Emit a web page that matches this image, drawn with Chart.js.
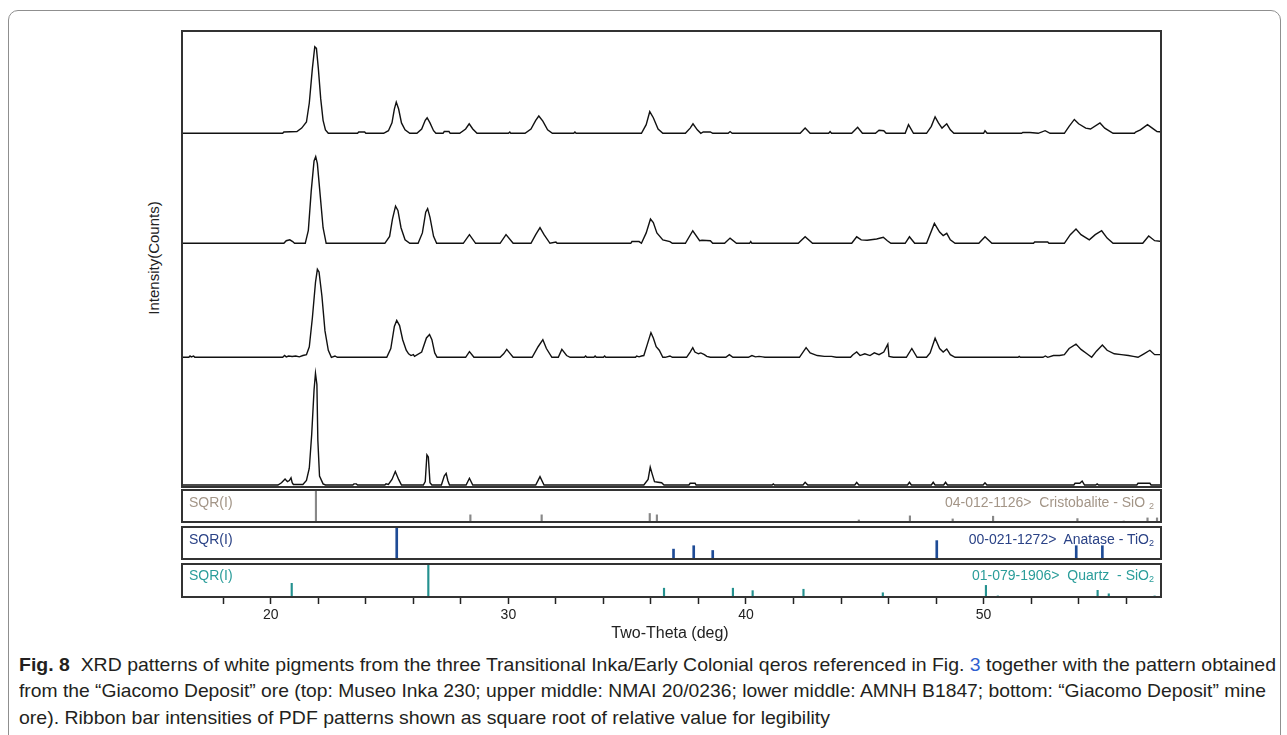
<!DOCTYPE html>
<html>
<head>
<meta charset="utf-8">
<script src="https://cdn.jsdelivr.net/npm/chart.js@4.4.1/dist/chart.umd.min.js"></script>
<style>
  body { margin: 0; width: 1287px; height: 735px; overflow: hidden; position: relative; background: #fff;
         font-family: "Liberation Sans", Arial, sans-serif; }
  .abs { position: absolute; }
  #outer { left: 8px; top: 10px; width: 1271px; height: 760px; border: 1.5px solid #8f8f8f; border-radius: 10px; }
  .sqr { font-size: 14px; line-height: 16px; }
  .ref { font-size: 14px; line-height: 16px; text-align: right; white-space: nowrap; }
  .ref sub { font-size: 9px; vertical-align: -2px; }
  #ytitle { left: 153px; top: 258px; font-size: 15px; color: #222; white-space: nowrap;
            transform: translate(-50%, -50%) rotate(-90deg); }
  #xtitle { left: 670px; top: 633px; font-size: 16px; color: #222; white-space: nowrap; transform: translate(-50%, -50%); }
  .cap { left: 19px; font-size: 18.5px; line-height: 26px; color: #231f20; white-space: nowrap; transform-origin: left center; }
  .cap a { color: #2f5fd0; text-decoration: none; }
</style>
</head>
<body>
<div id="outer" class="abs"></div>

<div class="abs" style="left:181px;top:30px;width:981px;height:458px"><canvas id="mainChart"></canvas></div>
<div class="abs" style="left:181px;top:489px;width:981px;height:34px"><canvas id="crisChart"></canvas></div>
<div class="abs" style="left:181px;top:526px;width:981px;height:34px"><canvas id="anaChart"></canvas></div>
<div class="abs" style="left:181px;top:563px;width:981px;height:63px"><canvas id="qtzChart"></canvas></div>

<div class="abs sqr" style="left:189px;top:494px;color:#a39587">SQR(I)</div>
<div class="abs sqr" style="left:189px;top:531px;color:#2a4286">SQR(I)</div>
<div class="abs sqr" style="left:189px;top:567px;color:#2a9d9a">SQR(I)</div>
<div class="abs ref" style="right:133px;top:494px;color:#a39587">04-012-1126&gt;&nbsp; Cristobalite - SiO <sub>2</sub></div>
<div class="abs ref" style="right:133px;top:531px;color:#2a4286">00-021-1272&gt;&nbsp; Anatase - TiO<sub>2</sub></div>
<div class="abs ref" style="right:133px;top:567px;color:#2a9d9a">01-079-1906&gt;&nbsp; Quartz &nbsp;- SiO<sub>2</sub></div>

<div id="ytitle" class="abs">Intensity(Counts)</div>
<div id="xtitle" class="abs">Two-Theta (deg)</div>

<div class="abs cap" style="top:652px" data-w="1257"><b>Fig. 8</b>&nbsp; XRD patterns of white pigments from the three Transitional Inka/Early Colonial qeros referenced in Fig. <a>3</a> together with the pattern obtained</div>
<div class="abs cap" style="top:678px" data-w="1247">from the “Giacomo Deposit” ore (top: Museo Inka 230; upper middle: NMAI 20/0236; lower middle: AMNH B1847; bottom: “Giacomo Deposit” mine</div>
<div class="abs cap" style="top:705px" data-w="811">ore). Ribbon bar intensities of PDF patterns shown as square root of relative value for legibility</div>

<script>
// XRD traces: [two-theta, relative intensity]
const museoInka230 = [
  [16.22,0],[20.5,0],[20.55,1.5],[21.1,2],[21.3,6],[21.5,13],[21.62,35],[21.75,75],[21.85,100],[21.92,98],[22.0,75],[22.1,40],[22.2,15],[22.3,4],[22.42,0],
  [23.65,0],[23.7,1.5],[23.95,1.5],[24.0,0],
  [24.75,0],[24.95,3],[25.1,12],[25.2,28],[25.28,36],[25.38,28],[25.5,12],[25.65,4],[25.85,0],
  [26.15,0],[26.35,5],[26.5,15],[26.58,18],[26.7,12],[26.85,3],[26.95,0],
  [27.25,0],[27.3,2],[27.5,2],[27.55,0],
  [27.95,0],[28.2,5],[28.35,11],[28.5,5],[28.68,0],
  [30.0,0],[30.06,1.5],[30.1,0],
  [30.7,0],[30.95,5],[31.15,15],[31.28,20],[31.45,14],[31.65,4],[31.85,0],
  [32.75,0],[32.8,1.5],[32.85,0],
  [35.6,0],[35.8,10],[35.95,25],[36.1,18],[36.3,5],[36.5,0],
  [37.45,0],[37.65,6],[37.77,11],[37.95,4],[38.1,0],[38.2,1.5],[38.5,1.5],[38.6,0],
  [39.25,0],[39.33,2],[39.42,0],
  [42.28,0],[42.49,6],[42.7,0],
  [43.48,0],[43.54,2],[43.6,0],
  [44.45,0],[44.7,7],[44.9,0],
  [45.45,0],[45.6,3.5],[45.8,3],[45.9,0],
  [46.7,0],[46.84,10],[47.05,0],
  [47.6,0],[47.8,8],[47.96,19],[48.1,12],[48.25,6],[48.45,11],[48.6,4],[48.75,0],
  [50.0,0],[50.06,3],[50.15,0],
  [51.6,0],[51.65,1],[51.95,1],[52.3,0],[52.59,3],[52.8,0],
  [53.4,0],[53.6,8],[53.82,16],[54.0,11],[54.3,6],[54.5,5],[54.9,12],[55.1,6],[55.45,0],
  [56.35,0],[56.4,1.5],[56.6,4],[56.9,10],[57.1,6],[57.3,2],[57.51,1.5]
];
const nmai20_0236 = [
  [16.22,0],[20.55,0],[20.65,3],[20.8,4],[20.92,2],[21.0,0],
  [21.45,0],[21.58,15],[21.7,60],[21.82,95],[21.89,100],[21.96,92],[22.08,55],[22.2,18],[22.33,0],
  [24.8,0],[25.0,8],[25.12,28],[25.25,43],[25.35,38],[25.48,18],[25.65,4],[25.85,0],
  [26.2,0],[26.38,12],[26.52,36],[26.6,40],[26.7,30],[26.85,8],[26.98,0],
  [28.1,0],[28.36,10],[28.62,0],
  [29.65,0],[29.9,10],[30.2,0],
  [30.95,0],[31.15,10],[31.33,18],[31.5,10],[31.75,0],[32.0,1.5],[32.05,0],
  [35.15,0],[35.2,2],[35.5,2],[35.6,0],
  [35.8,12],[35.98,28],[36.1,24],[36.25,12],[36.5,4],[36.8,2],[36.9,0],
  [37.45,0],[37.76,14.5],[38.05,3],[38.15,3.5],[38.5,3],[38.6,0],
  [39.1,0],[39.33,6],[39.6,0],
  [40.15,0],[40.2,2],[40.25,0],
  [42.2,0],[42.49,7.5],[42.8,0],
  [44.45,0],[44.66,7.5],[44.85,4],[45.1,3.5],[45.5,5],[45.78,7],[45.95,3],[46.1,0],
  [46.7,0],[46.88,7.5],[47.1,0],
  [47.6,0],[47.93,23],[48.15,13],[48.3,9],[48.45,11.5],[48.6,4],[48.8,0],
  [49.8,0],[50.06,7.5],[50.35,0],
  [52.1,0],[52.15,1.5],[52.7,1.5],[52.75,0],
  [53.4,0],[53.65,10],[53.89,16.5],[54.1,10],[54.45,4],[54.7,10],[54.97,14.5],[55.2,6],[55.45,0],
  [56.7,0],[56.95,8.5],[57.2,3],[57.51,2]
];
const amnhB1847 = [
  [16.22,0],[16.55,0],[16.6,1.5],[16.65,0.5],[16.75,1.5],[16.8,0],
  [20.5,0],[20.58,2],[20.65,0.5],[20.75,1.5],[20.9,1],[21.05,1.5],[21.2,0.5],[21.35,2],[21.5,3],
  [21.62,12],[21.75,45],[21.88,85],[21.96,100],[22.03,97],[22.15,70],[22.28,30],[22.42,8],[22.55,0],[22.7,1.5],[22.8,0],
  [24.88,0],[25.05,10],[25.2,35],[25.3,42],[25.42,36],[25.55,20],[25.7,8],[25.8,4],[25.9,2],[26.0,3],[26.05,1],
  [26.35,6],[26.55,22],[26.68,26],[26.78,20],[26.9,5],[27.0,0],
  [28.2,0],[28.36,6.5],[28.55,0],
  [29.65,0],[29.8,4],[29.93,9],[30.05,5],[30.2,0],
  [31.0,0],[31.25,12],[31.45,20],[31.6,10],[31.83,0],
  [32.1,0],[32.25,9],[32.45,2],[32.6,0],
  [33.2,0],[33.25,1.5],[33.3,0],[33.6,0],[33.65,1.5],[33.7,0],[34.0,0],[34.05,1.5],[34.1,0],
  [35.35,0],[35.4,1.5],[35.5,0.5],[35.6,1.5],
  [35.7,2],[35.85,15],[36.0,28],[36.1,22],[36.22,12],[36.35,8],[36.5,0],
  [36.6,0],[36.8,1.5],[36.9,0],
  [37.5,0],[37.65,6],[37.76,11],[37.85,6],[38.0,4],[38.1,5],[38.25,3],[38.35,1],[38.5,0],
  [39.15,0],[39.3,3],[39.45,0],
  [40.1,0],[40.25,2],[40.4,0.5],[40.55,1],[40.7,0.5],[40.8,0],
  [42.25,0],[42.53,11],[42.7,5],[43.0,2],[43.3,1],[43.6,1],[43.8,0],
  [44.4,0],[44.5,3],[44.66,6],[44.8,2],[45.0,4],[45.22,2],[45.4,5],[45.6,3],[45.8,6],[45.97,14.8],[46.02,1],[46.2,0],
  [46.75,0],[46.98,10],[47.2,0],
  [47.6,0],[47.75,5],[47.96,21.6],[48.15,10],[48.3,6],[48.45,9.5],[48.6,3],[48.8,0],
  [51.45,0],[51.5,1],[51.55,0],[52.5,0],[52.6,1.5],[52.7,0],[52.94,2],[53.2,2],[53.4,3],
  [53.6,10],[53.89,15],[54.1,9],[54.35,4],[54.55,0],[54.75,7],[55.0,14],[55.2,8],[55.5,4],[55.8,3],[56.1,2],[56.3,1],
  [56.5,0],[56.75,4],[57.0,8],[57.2,3],[57.51,3]
];
const giacomoOre = [
  [16.22,0],[20.3,0],[20.45,2],[20.6,5.4],[20.7,3],[20.78,4],[20.85,6.5],[20.9,2],[20.95,0.5],[21.25,0.5],[21.35,0.5],
  [21.5,4],[21.62,15],[21.72,45],[21.82,85],[21.88,100],[21.94,90],[21.98,40],[22.05,8],[22.2,1],[22.3,0],
  [23.45,0],[23.5,1],[23.6,1],[23.65,0],
  [24.8,0],[24.85,1],[24.95,0.5],[25.1,5],[25.24,12],[25.38,5],[25.5,0],
  [26.42,0],[26.5,3],[26.57,27],[26.63,25],[26.7,2],[26.78,0],
  [27.18,0],[27.3,8],[27.38,10.4],[27.45,4],[27.52,0],
  [28.22,0],[28.36,6],[28.5,0],
  [31.15,0],[31.33,7.5],[31.5,0],
  [35.7,0],[35.88,5],[35.97,16],[36.05,10],[36.15,3],[36.3,2.5],[36.45,2],[36.55,0],
  [37.6,0],[37.65,1.5],[37.86,1.5],[37.9,0],
  [41.1,0],[41.15,1],[41.2,0],
  [42.4,0],[42.49,2.4],[42.6,0],
  [44.58,0],[44.66,2.4],[44.75,0],
  [46.8,0],[46.88,2.4],[46.96,0],
  [47.8,0],[47.88,2.4],[47.96,0],[48.32,0],[48.4,2.4],[48.48,0],
  [49.98,0],[50.06,2],[50.14,0],
  [53.8,0],[53.85,1.5],[54.05,1.5],[54.15,3.5],[54.25,0],
  [54.72,0],[54.78,1],[54.84,0],
  [56.45,0],[56.5,1.5],[57.0,1.5],[57.05,0],[57.51,0]
];

// PDF reference sticks: [two-theta, SQR(I) relative]
const cristobaliteSticks = [
  [21.9,100],[25.3,5],[28.4,24],[31.4,24],[35.95,28],[36.25,24],[42.6,5],[44.75,9],[45.15,4],
  [46.9,21],[48.7,12],[50.4,20],[52.5,3],[53.95,13],[55.9,6],[56.9,15],[57.3,15]
];
const anataseSticks = [
  [25.3,100],[36.95,32],[37.8,42],[38.6,28],[48.03,57],[53.9,42],[55.0,42]
];
const quartzSticks = [
  [20.88,42],[26.63,100],[36.55,28],[39.45,28],[40.28,21],[42.42,25],[45.76,15],
  [50.1,36],[50.6,6],[54.8,22],[55.27,12],[57.2,6]
];

const tickValues = [18, 20, 22, 24, 26, 28, 30, 32, 34, 36, 38, 40, 42, 44, 46, 48, 50, 52, 54, 56];
const tickLabels = [20, 30, 40, 50];

// where each trace sits inside the main frame (px from its top)
const bandBase = [103.3, 213.3, 327.3, 455];
const bandPeak = [16.7, 126.7, 239.3, 343.3];
const plotH = 458;
const xMin = 16.22, xMax = 57.51;

const framePlugin = {
  id: 'frame',
  afterDraw(chart) {
    const a = chart.chartArea, ctx = chart.ctx;
    ctx.save();
    ctx.strokeStyle = '#333';
    ctx.lineWidth = 2;
    ctx.strokeRect(a.left + 1, a.top + 1, a.right - a.left - 2, a.bottom - a.top - 2);
    ctx.restore();
  }
};

function bandAxis(i) {
  const span = bandBase[i] - bandPeak[i];
  const max = 100 * bandBase[i] / span;
  return { type: 'linear', display: false, min: max - 100 * plotH / span, max: max };
}

const common = {
  responsive: true,
  maintainAspectRatio: false,
  animation: false,
  layout: { padding: 0 },
  plugins: { legend: { display: false }, tooltip: { enabled: false } }
};

const traces = [museoInka230, nmai20_0236, amnhB1847, giacomoOre];
const scales = { x: { type: 'linear', display: false, min: xMin, max: xMax } };
traces.forEach((t, i) => { scales['y' + i] = bandAxis(i); });

new Chart(document.getElementById('mainChart'), {
  type: 'line',
  data: {
    datasets: traces.map((t, i) => ({
      data: t,
      yAxisID: 'y' + i,
      borderColor: '#111',
      borderWidth: 1.4,
      pointRadius: 0,
      tension: 0,
      fill: false
    }))
  },
  options: Object.assign({}, common, { scales: scales }),
  plugins: [framePlugin]
});

function stickChart(id, sticks, color, width, showAxis) {
  const x = { type: 'linear', display: false, min: xMin, max: xMax, offset: false, grid: { offset: false } };
  if (showAxis) {
    Object.assign(x, {
      display: true,
      afterBuildTicks: s => { s.ticks = tickValues.map(v => ({ value: v })); },
      afterFit: s => { s.height = 28; },
      border: { display: false },
      grid: { offset: false, drawOnChartArea: false, drawTicks: true, tickLength: 6, tickColor: '#222', tickWidth: 1.5 },
      ticks: {
        autoSkip: false, maxRotation: 0, padding: 3, color: '#222',
        font: { size: 14, family: 'Liberation Sans' },
        callback: v => tickLabels.includes(v) ? String(v) : ''
      }
    });
  }
  return new Chart(document.getElementById(id), {
    type: 'bar',
    data: {
      datasets: [{
        data: sticks.map(s => ({ x: s[0], y: s[1] })),
        backgroundColor: color,
        barThickness: width,
        grouped: false
      }]
    },
    options: Object.assign({}, common, {
      scales: { x: x, y: { type: 'linear', display: false, min: 0, max: 100 } }
    }),
    plugins: [framePlugin]
  });
}

stickChart('crisChart', cristobaliteSticks, '#888888', 1.5, false);
stickChart('anaChart', anataseSticks, '#1e4b96', 2, false);
stickChart('qtzChart', quartzSticks, '#24918f', 1.5, true);

// stretch each caption line to the width it has in the figure
document.querySelectorAll('.cap').forEach(el => {
  const w = el.getBoundingClientRect().width;
  el.style.transform = 'scaleX(' + (el.dataset.w / w) + ')';
});
</script>
</body>
</html>
